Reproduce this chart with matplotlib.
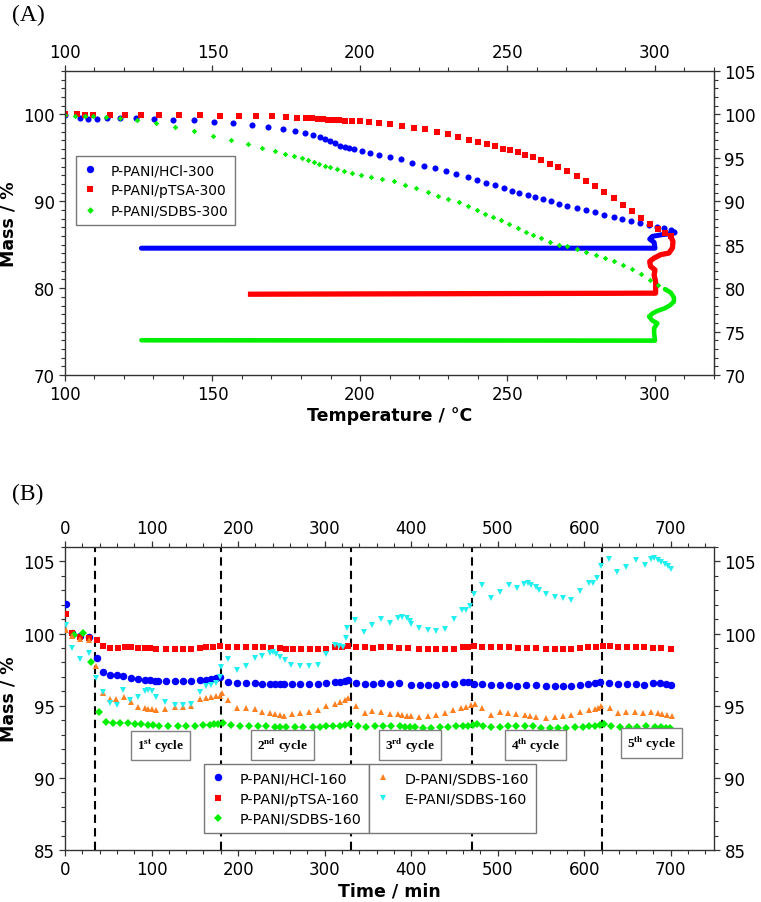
import matplotlib
matplotlib.use("Agg")
import matplotlib.pyplot as plt
from matplotlib.ticker import MultipleLocator
from matplotlib.lines import Line2D

plt.rcParams['font.family'] = ['DejaVu Sans']
plt.rcParams['mathtext.fontset'] = 'stix'

# ---------------- Panel A data (Temperature °C, Mass %) ----------------
hcl300_heat_T = [100.0, 105.1, 107.9, 110.7, 114.3, 118.6, 124.0, 130.2, 136.7, 143.7, 150.4, 157.0,
                 163.3, 168.9, 173.9, 177.9, 181.2, 184.0, 186.3, 188.0, 189.7, 191.4, 193.1, 194.8,
                 196.4, 198.1, 200.7, 203.4, 206.6, 210.0, 213.8, 217.6, 221.6, 225.5, 229.1, 232.7,
                 236.5, 239.5, 242.7, 245.7, 248.9, 251.4, 254.0, 256.8, 259.4, 261.9, 264.7, 267.5,
                 270.3, 273.4, 276.5, 279.7, 282.7, 286.0, 288.9, 292.0, 294.8, 298.0, 300.8, 303.0,
                 305.3, 306.4]
hcl300_heat_m = [99.9, 99.54, 99.5, 99.5, 99.54, 99.54, 99.54, 99.5, 99.39, 99.31, 99.16, 98.97,
                 98.77, 98.58, 98.31, 98.12, 97.85, 97.62, 97.36, 97.16, 96.93, 96.67, 96.40, 96.21,
                 96.09, 96.05, 95.79, 95.59, 95.36, 95.10, 94.85, 94.42, 94.12, 93.81, 93.50, 93.19,
                 92.81, 92.50, 92.15, 91.85, 91.50, 91.23, 91.00, 90.77, 90.50, 90.23, 90.00, 89.73,
                 89.50, 89.23, 88.96, 88.73, 88.46, 88.19, 87.96, 87.73, 87.50, 87.31, 87.04, 86.88,
                 86.73, 86.46]
hcl300_hold_T = [306.4, 305.0, 302.3, 299.1, 298.2, 299.7, 300.0, 125.9]
hcl300_hold_m = [86.46, 86.25, 86.15, 85.96, 85.65, 85.27, 84.60, 84.60]

ptsa300_heat_T = [100.0, 103.9, 106.8, 109.6, 115.2, 120.3, 125.9, 131.9, 138.7, 145.7, 152.7, 159.0,
                  164.9, 170.1, 174.8, 178.6, 181.6, 183.8, 185.7, 187.4, 189.1, 190.8, 192.8, 194.8,
                  197.3, 200.1, 203.2, 206.6, 210.2, 214.1, 218.2, 222.1, 226.0, 229.7, 233.3, 236.8,
                  240.0, 242.9, 245.8, 248.6, 250.9, 253.4, 256.0, 258.7, 261.5, 264.3, 267.2, 270.3,
                  273.4, 276.5, 279.7, 282.8, 286.1, 289.3, 292.3, 295.4, 298.2, 301.1, 303.3, 305.3]
ptsa300_heat_m = [100.1, 100.0, 99.92, 99.92, 99.92, 99.92, 99.89, 99.89, 99.89, 99.92, 99.85, 99.81,
                  99.81, 99.77, 99.69, 99.62, 99.58, 99.54, 99.46, 99.43, 99.39, 99.35, 99.31, 99.27,
                  99.23, 99.20, 99.12, 99.04, 98.92, 98.65, 98.42, 98.27, 98.00, 97.69, 97.38, 97.04,
                  96.81, 96.54, 96.31, 96.04, 95.85, 95.65, 95.38, 95.12, 94.73, 94.35, 93.92, 93.46,
                  92.96, 92.38, 91.81, 91.08, 90.35, 89.62, 88.85, 88.08, 87.35, 86.81, 86.35, 85.96]
ptsa300_hold_T = [305.3, 306.1, 305.9, 304.7, 301.9, 299.7, 298.2, 298.5, 300.0, 299.7, 300.2, 300.2, 162.0]
ptsa300_hold_m = [85.96, 85.38, 84.62, 84.04, 83.85, 83.46, 83.08, 82.50, 82.10, 81.50, 80.77, 79.42, 79.30]

sdbs300_heat_T = [100.0, 103.4, 106.8, 109.6, 113.9, 118.6, 124.5, 130.8, 137.2, 143.8, 150.2, 156.4,
                  162.0, 166.8, 171.1, 174.7, 177.7, 180.3, 182.3, 184.3, 186.1, 188.0, 189.9, 192.2,
                  194.5, 197.3, 200.3, 203.7, 207.3, 211.4, 215.3, 219.0, 222.9, 226.6, 230.0, 233.4,
                  236.5, 239.5, 242.4, 245.1, 247.7, 250.6, 253.4, 256.2, 258.8, 261.5, 264.3, 267.5,
                  270.3, 273.5, 276.5, 279.9, 283.1, 286.1, 289.2, 292.3, 295.1, 298.2, 301.1, 303.4]
sdbs300_heat_m = [99.92, 99.85, 99.85, 99.81, 99.69, 99.54, 99.35, 99.00, 98.54, 98.05, 97.51, 97.05,
                  96.55, 96.17, 95.79, 95.48, 95.21, 94.98, 94.75, 94.52, 94.33, 94.10, 93.91, 93.68,
                  93.45, 93.26, 93.07, 92.84, 92.61, 92.30, 91.90, 91.55, 91.04, 90.65, 90.27, 89.88,
                  89.42, 88.96, 88.58, 88.15, 87.81, 87.38, 86.92, 86.50, 86.12, 85.73, 85.31, 85.00,
                  84.81, 84.50, 84.15, 83.81, 83.46, 83.08, 82.65, 82.19, 81.65, 80.96, 80.35, 79.88]
sdbs300_hold_T = [303.4, 305.3, 306.4, 306.4, 305.3, 303.4, 300.8, 299.3, 298.0, 299.1, 300.8, 299.7,
                  299.7, 300.0, 125.9]
sdbs300_hold_m = [79.88, 79.50, 78.92, 78.46, 78.08, 77.69, 77.38, 77.12, 76.73, 76.27, 75.96, 75.38,
                  74.81, 73.96, 74.00]

# ---------------- Panel B data (Time min, Mass %) ----------------
hcl160_t = [0.8, 8.5, 17.8, 27.8, 37.0, 44.0, 52.4, 60.1, 67.0, 76.7, 84.4, 92.1, 97.9, 103.6, 107.5,
            116.4, 126.8, 136.4, 146.0, 155.7, 163.4, 169.2, 174.9, 178.8, 188.4, 198.8, 208.8, 219.2,
            228.1, 237.3, 242.3, 248.1, 252.7, 262.8, 272.0, 282.0, 292.4, 302.0, 311.7, 318.2, 323.2,
            327.1, 336.0, 346.4, 356.0, 365.7, 376.0, 386.0, 400.3, 410.0, 419.6, 429.0, 438.8, 449.2,
            460.0, 466.0, 472.4, 482.4, 492.8, 503.2, 513.2, 522.4, 533.2, 544.8, 556.3, 566.0, 575.6,
            585.2, 594.9, 604.5, 612.2, 618.7, 628.8, 639.1, 649.5, 659.6, 668.8, 679.6, 687.3, 695.0,
            700.8]
hcl160_m = [102.07, 100.05, 99.80, 99.75, 98.32, 97.37, 97.14, 97.12, 97.07, 96.93, 96.84, 96.80, 96.75,
            96.70, 96.68, 96.68, 96.68, 96.68, 96.70, 96.75, 96.80, 96.86, 96.93, 97.00, 96.62, 96.56,
            96.56, 96.56, 96.52, 96.52, 96.50, 96.50, 96.48, 96.50, 96.50, 96.50, 96.50, 96.56, 96.61,
            96.66, 96.70, 96.80, 96.59, 96.52, 96.52, 96.57, 96.50, 96.54, 96.47, 96.46, 96.45, 96.45,
            96.50, 96.52, 96.61, 96.66, 96.50, 96.52, 96.45, 96.45, 96.45, 96.40, 96.47, 96.43, 96.38,
            96.38, 96.36, 96.40, 96.47, 96.50, 96.54, 96.66, 96.59, 96.50, 96.50, 96.52, 96.47, 96.54,
            96.54, 96.50, 96.47]

ptsa160_t = [0.8, 8.5, 17.8, 27.8, 37.0, 44.0, 51.6, 61.3, 69.0, 76.7, 84.4, 92.1, 97.9, 105.6, 116.4,
             126.8, 136.4, 146.0, 155.7, 163.4, 171.0, 178.8, 188.4, 198.8, 208.8, 219.2, 228.9, 238.5,
             248.1, 255.8, 263.5, 273.1, 282.8, 292.4, 302.0, 311.7, 320.5, 327.1, 336.0, 346.4, 356.0,
             365.7, 376.0, 386.0, 396.5, 409.2, 419.6, 429.2, 438.8, 449.2, 460.0, 465.8, 472.4, 482.4,
             492.8, 503.2, 513.2, 523.6, 534.0, 544.8, 556.3, 566.0, 575.6, 585.2, 594.9, 604.5, 614.1,
             621.8, 629.5, 639.1, 649.5, 659.6, 668.8, 679.6, 689.2, 700.8]
ptsa160_m = [101.35, 100.07, 99.79, 99.72, 99.54, 99.17, 99.01, 99.01, 99.08, 99.05, 99.01, 99.01, 99.01,
             98.96, 98.92, 98.92, 98.92, 98.96, 99.01, 99.05, 99.08, 99.15, 99.10, 99.05, 99.05, 99.05,
             99.05, 99.01, 99.01, 98.96, 98.92, 98.92, 98.92, 98.92, 98.96, 99.08, 99.08, 99.15, 99.06,
             99.06, 99.03, 99.05, 99.04, 99.03, 99.01, 98.96, 98.92, 98.92, 98.96, 98.96, 99.05, 99.10,
             99.12, 99.08, 99.05, 99.08, 99.10, 99.03, 99.01, 98.99, 98.94, 98.92, 98.92, 98.96, 99.01,
             99.05, 99.10, 99.15, 99.15, 99.05, 99.05, 99.08, 99.05, 99.03, 99.01, 98.96]

sdbs160_t = [10.5, 20.8, 30.4, 39.3, 47.8, 55.5, 64.0, 72.8, 80.4, 88.2, 95.9, 102.0, 108.7, 119.0, 130.5,
             140.2, 149.8, 159.4, 167.2, 172.0, 176.8, 182.6, 192.3, 201.9, 212.7, 223.1, 232.7, 242.4,
             248.0, 255.8, 265.5, 275.1, 286.7, 294.4, 302.1, 309.8, 317.5, 323.0, 329.1, 338.7, 348.3,
             358.0, 367.6, 377.2, 386.8, 392.6, 398.4, 404.0, 413.8, 423.4, 433.1, 442.7, 452.3, 460.0,
             465.8, 471.6, 476.2, 483.1, 492.8, 502.4, 512.0, 521.7, 531.3, 540.9, 550.5, 560.1, 569.7,
             579.4, 589.0, 598.6, 606.0, 612.0, 617.9, 622.5, 631.4, 641.0, 651.8, 661.0, 671.8, 681.5,
             689.0, 694.9, 698.8]
sdbs160_m = [99.90, 100.02, 98.05, 94.58, 93.84, 93.77, 93.77, 93.77, 93.70, 93.70, 93.66, 93.66, 93.62,
             93.62, 93.62, 93.62, 93.62, 93.66, 93.66, 93.70, 93.70, 93.77, 93.66, 93.62, 93.62, 93.62,
             93.62, 93.55, 93.55, 93.55, 93.50, 93.55, 93.55, 93.55, 93.59, 93.62, 93.62, 93.66, 93.70,
             93.62, 93.55, 93.59, 93.62, 93.62, 93.59, 93.55, 93.55, 93.55, 93.48, 93.48, 93.55, 93.55,
             93.59, 93.59, 93.62, 93.66, 93.70, 93.62, 93.55, 93.55, 93.59, 93.59, 93.59, 93.57, 93.48,
             93.48, 93.48, 93.48, 93.52, 93.55, 93.59, 93.62, 93.66, 93.70, 93.59, 93.55, 93.55, 93.55,
             93.59, 93.55, 93.50, 93.48, 93.48]

dpani160_t = [0.8, 8.5, 17.8, 27.8, 35.5, 43.9, 52.4, 59.3, 67.8, 76.7, 84.4, 92.0, 96.0, 100.0, 104.8,
              115.2, 126.7, 136.4, 146.0, 155.6, 163.0, 169.0, 174.0, 178.7, 181.0, 188.4, 198.8, 208.8,
              219.2, 228.1, 237.3, 242.3, 248.1, 252.7, 262.8, 272.0, 282.0, 292.4, 302.1, 311.7, 318.3,
              323.0, 327.1, 336.0, 346.4, 355.3, 365.7, 375.3, 384.9, 390.0, 395.3, 400.0, 409.2, 419.6,
              429.2, 438.9, 448.5, 458.1, 463.9, 469.7, 473.5, 482.4, 492.8, 502.4, 512.0, 521.7, 531.3,
              537.0, 544.8, 555.5, 565.9, 575.5, 585.2, 595.6, 605.6, 612.0, 616.0, 619.8, 629.4, 639.1,
              648.7, 658.3, 668.0, 677.6, 685.0, 690.0, 696.0, 701.9]
dpani160_m = [100.23, 99.84, 99.64, 99.57, 97.78, 95.85, 95.46, 95.50, 95.60, 95.27, 94.93, 94.85, 94.80,
              94.75, 94.69, 94.76, 94.93, 94.93, 94.99, 95.46, 95.55, 95.60, 95.65, 95.70, 95.85, 95.39,
              94.81, 94.86, 94.77, 94.54, 94.47, 94.42, 94.35, 94.31, 94.40, 94.47, 94.58, 94.70, 95.00,
              95.09, 95.28, 95.37, 95.55, 95.00, 94.47, 94.63, 94.54, 94.40, 94.40, 94.35, 94.31, 94.28,
              94.23, 94.31, 94.35, 94.47, 94.70, 94.86, 94.93, 95.05, 95.15, 94.81, 94.35, 94.54, 94.47,
              94.40, 94.35, 94.31, 94.23, 94.17, 94.23, 94.31, 94.35, 94.54, 94.70, 94.80, 94.86, 95.00,
              94.86, 94.47, 94.58, 94.58, 94.47, 94.54, 94.47, 94.40, 94.35, 94.31]

epani160_t = [0.8, 8.5, 17.8, 27.8, 36.2, 44.0, 51.6, 60.1, 67.0, 74.7, 84.4, 92.0, 96.0, 100.0, 105.5,
              115.2, 126.7, 136.4, 146.0, 155.6, 163.4, 169.2, 174.0, 178.7, 180.5, 188.4, 198.8, 208.8,
              219.2, 228.1, 237.3, 240.4, 244.3, 248.1, 253.9, 261.6, 272.0, 282.0, 292.4, 302.0, 311.7,
              316.7, 321.4, 324.4, 326.0, 334.8, 345.2, 355.3, 365.7, 376.0, 384.9, 390.0, 395.0, 398.4,
              400.3, 409.2, 419.6, 429.2, 438.8, 449.2, 459.0, 463.0, 467.5, 472.9, 482.4, 492.8, 502.4,
              513.2, 522.4, 531.0, 535.0, 539.0, 544.0, 547.9, 556.3, 566.0, 575.6, 585.2, 594.9, 605.0,
              610.0, 614.5, 619.3, 628.8, 638.0, 648.8, 659.6, 670.0, 677.0, 681.0, 685.0, 689.0, 693.0,
              697.0, 700.7]
epani160_m = [100.62, 98.98, 98.25, 98.65, 96.89, 95.95, 95.20, 95.04, 96.09, 95.40, 95.62, 96.00, 96.10,
              96.00, 95.62, 95.27, 95.04, 95.04, 95.09, 95.92, 96.38, 96.45, 96.60, 96.97, 97.70, 98.22,
              97.50, 97.75, 98.31, 98.45, 98.62, 98.73, 98.55, 98.39, 98.16, 97.81, 97.72, 97.74, 97.81,
              98.55, 99.18, 99.12, 99.10, 99.68, 100.37, 100.92, 100.12, 100.57, 100.99, 100.76, 101.10,
              101.15, 101.05, 100.90, 100.69, 100.39, 100.23, 100.18, 100.30, 100.99, 101.61, 101.65,
              101.90, 102.73, 103.34, 102.50, 102.89, 103.34, 103.17, 103.45, 103.50, 103.40, 103.20,
              103.00, 102.77, 102.53, 102.47, 102.30, 102.94, 103.53, 103.50, 103.85, 104.65, 105.17,
              104.25, 104.58, 105.07, 104.77, 105.20, 105.25, 105.10, 104.95, 104.85, 104.70, 104.50]

cycle_bounds = [35, 180, 330, 470, 620]
cycle_labels = [r'1$^{\mathbf{st}}$ cycle', r'2$^{\mathbf{nd}}$ cycle', r'3$^{\mathbf{rd}}$ cycle',
                r'4$^{\mathbf{th}}$ cycle', r'5$^{\mathbf{th}}$ cycle']
cycle_label_t = [110, 251, 399, 544, 678]
cycle_label_m = [92.25, 92.25, 92.25, 92.25, 92.4]

BLUE = '#0000ff'
RED = '#ff0000'
GREEN = '#00ee00'
ORANGE = '#ff8020'
CYAN = '#22f0f0'
SPINE = '#333333'

fig = plt.figure(figsize=(7.61, 9.03), dpi=100)

def style_axes(ax):
    for s in ax.spines.values():
        s.set_color(SPINE)
        s.set_linewidth(1.0)
    ax.tick_params(which='both', direction='out', colors=SPINE, labelcolor='black', labelsize=12)
    ax.tick_params(which='major', length=4, width=0.9)
    ax.tick_params(which='minor', length=3, width=0.8)
    ax.tick_params(axis='x', which='both', top=True, labeltop=True)

# ---------------- Panel A ----------------
axA = fig.add_axes([65/761, 1-376/903, 649/761, 304/903])
axA.plot(hcl300_hold_T, hcl300_hold_m, '-', color=BLUE, lw=3.6, solid_capstyle='round')
axA.plot(ptsa300_hold_T, ptsa300_hold_m, '-', color=RED, lw=3.8, solid_capstyle='butt')
axA.plot(sdbs300_hold_T, sdbs300_hold_m, '-', color=GREEN, lw=3.3, solid_capstyle='round')
hA1, = axA.plot(hcl300_heat_T, hcl300_heat_m, 'o', color=BLUE, ms=4.4, mew=0, label='P-PANI/HCl-300')
hA2, = axA.plot(ptsa300_heat_T, ptsa300_heat_m, 's', color=RED, ms=4.0, mew=0, label='P-PANI/pTSA-300')
hA3, = axA.plot(sdbs300_heat_T, sdbs300_heat_m, 'D', color=GREEN, ms=2.8, mew=0, label='P-PANI/SDBS-300')
axA.set_xlim(100, 320)
axA.set_ylim(70, 105)
axA.xaxis.set_major_locator(MultipleLocator(50))
axA.xaxis.set_minor_locator(MultipleLocator(10))
axA.yaxis.set_major_locator(MultipleLocator(10))
axA.yaxis.set_minor_locator(MultipleLocator(1))
style_axes(axA)
secA = axA.secondary_yaxis('right')
secA.yaxis.set_major_locator(MultipleLocator(5))
secA.yaxis.set_minor_locator(MultipleLocator(1))
secA.spines['right'].set_color(SPINE)
secA.tick_params(which='both', direction='out', colors=SPINE, labelcolor='black', labelsize=12)
secA.tick_params(which='major', length=4, width=0.9)
secA.tick_params(which='minor', length=3, width=0.8)
axA.set_xlabel('Temperature / °C', fontsize=12.5, fontweight='bold', labelpad=2)
axA.set_ylabel('Mass / %', fontsize=12.5, fontweight='bold', labelpad=4)
legA = axA.legend(handles=[hA1, hA2, hA3], loc='upper left', bbox_to_anchor=(0.017, 0.72),
                  fontsize=10, frameon=True, fancybox=False, edgecolor='#555555',
                  handlelength=1.0, handletextpad=1.0, borderaxespad=0, borderpad=0.5,
                  labelspacing=0.45, markerscale=1.2)
legA.get_frame().set_linewidth(1.0)
fig.text(12/761, 1-15/903, '(A)', fontsize=17, family='Liberation Serif', va='center', ha='left')

# ---------------- Panel B ----------------
axB = fig.add_axes([65/761, 1-851/903, 649/761, 303/903])
for tb in cycle_bounds:
    axB.axvline(tb, color='black', lw=1.5, ls=(0, (4, 2.5)), zorder=1)
hB1, = axB.plot(hcl160_t, hcl160_m, 'o', color=BLUE, ms=5.4, mew=0, label='P-PANI/HCl-160', zorder=3)
hB2, = axB.plot(ptsa160_t, ptsa160_m, 's', color=RED, ms=4.4, mew=0, label='P-PANI/pTSA-160', zorder=3)
hB3, = axB.plot(sdbs160_t, sdbs160_m, 'D', color=GREEN, ms=3.6, mew=0, label='P-PANI/SDBS-160', zorder=3)
hB4, = axB.plot(dpani160_t, dpani160_m, '^', color=ORANGE, ms=4.8, mew=0, label='D-PANI/SDBS-160', zorder=3)
hB5, = axB.plot(epani160_t, epani160_m, 'v', color=CYAN, ms=5.0, mew=0, label='E-PANI/SDBS-160', zorder=3)
axB.set_xlim(0, 750)
axB.set_ylim(85, 106)
axB.xaxis.set_major_locator(MultipleLocator(100))
axB.xaxis.set_minor_locator(MultipleLocator(20))
axB.yaxis.set_major_locator(MultipleLocator(5))
axB.yaxis.set_minor_locator(MultipleLocator(1))
style_axes(axB)
axB.tick_params(axis='y', which='both', right=True, labelright=True)
axB.set_xlabel('Time / min', fontsize=12.5, fontweight='bold', labelpad=2)
axB.set_ylabel('Mass / %', fontsize=12.5, fontweight='bold', labelpad=4)

for lab, tx, my in zip(cycle_labels, cycle_label_t, cycle_label_m):
    axB.text(tx, my, lab, ha='center', va='center', fontsize=9.5, family='Liberation Serif',
             fontweight='bold', zorder=4,
             bbox=dict(boxstyle='square,pad=0.45', fc='white', ec='#808080', lw=1.0))

blank = Line2D([], [], linestyle='none', marker='none')
leg_kw = dict(fontsize=10.3, frameon=True, fancybox=False, edgecolor='#777777', framealpha=1,
              handlelength=1.0, handletextpad=1.0, borderaxespad=0, borderpad=0.5,
              labelspacing=0.45, markerscale=1.0)
legB1 = axB.legend(handles=[hB1, hB2, hB3], loc='upper right', bbox_to_anchor=(0.468, 0.284), **leg_kw)
legB1.get_frame().set_linewidth(1.0)
legB1.set_zorder(5)
axB.add_artist(legB1)
legB2 = axB.legend(handles=[hB4, hB5, blank], labels=['D-PANI/SDBS-160', 'E-PANI/SDBS-160', ' '],
                   loc='upper left', bbox_to_anchor=(0.468, 0.284), **leg_kw)
legB2.get_frame().set_linewidth(1.0)
legB2.set_zorder(5)

fig.text(12/761, 1-494/903, '(B)', fontsize=17, family='Liberation Serif', va='center', ha='left')

fig.savefig('out.png', dpi=100)
